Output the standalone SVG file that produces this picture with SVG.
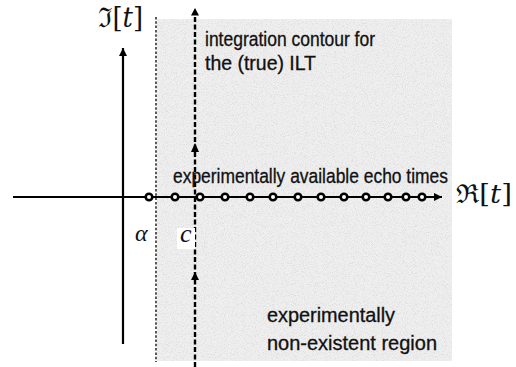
<svg xmlns="http://www.w3.org/2000/svg" width="516" height="367" viewBox="0 0 516 367">
<style>
.lbl{font-family:"Liberation Sans Narrow","Liberation Sans",Arial,sans-serif;font-size:19.5px;fill:#111;stroke:#111;stroke-width:0.3}
.math{font-family:"DejaVu Serif","Liberation Serif",serif;fill:#111}
.it{font-family:"Liberation Serif","DejaVu Serif",serif;font-style:italic;fill:#111}
.axis{stroke:#000;stroke-width:2.2;fill:none}
.dot{fill:#fff;stroke:#000;stroke-width:2.6}
</style>
<defs>
<marker id="ah" viewBox="0 0 8 8" refX="8" refY="4" markerWidth="8" markerHeight="8" markerUnits="userSpaceOnUse" orient="auto">
<path d="M0,0 L8,4 L0,8 z" fill="#000"/>
</marker>
<filter id="noise" x="0" y="0" width="100%" height="100%">
<feTurbulence type="fractalNoise" baseFrequency="1.1" numOctaves="2" seed="3" result="t"/>
<feColorMatrix in="t" type="matrix" values="0 0 0 0 0.6  0 0 0 0 0.6  0 0 0 0 0.6  0 0 0 -3 1.6" result="n"/>
<feComposite in="n" in2="SourceGraphic" operator="in"/>
</filter>
</defs>
<g id="region">
<rect x="157" y="19" width="295" height="342" fill="#efefef"/>
<rect x="157" y="19" width="295" height="342" fill="#fff" filter="url(#noise)" opacity="0.5"/>
</g>
<g id="connectors">
<line class="axis" x1="123" y1="344" x2="123" y2="48" marker-end="url(#ah)"/>
<line class="axis" x1="13" y1="197" x2="442" y2="197" marker-end="url(#ah)"/>
<line x1="156" y1="17" x2="156" y2="362" stroke="#000" stroke-width="1.3" stroke-dasharray="2.5,1.8"/>
<line x1="195" y1="367" x2="195" y2="14" stroke="#000" stroke-width="2.4" stroke-dasharray="5,2.5"/>
<path d="M195,8 L199,15.5 L191,15.5 z" fill="#000"/>
<path d="M195,143 L199,152 L191,152 z" fill="#000"/>
<path d="M195,272 L199,280 L191,280 z" fill="#000"/>
</g>
<g id="echo-times">
<circle class="dot" cx="149" cy="197" r="3.3"/>
<circle class="dot" cx="175" cy="197" r="3.3"/>
<circle class="dot" cx="200" cy="197" r="3.3"/>
<circle class="dot" cx="225" cy="197" r="3.3"/>
<circle class="dot" cx="250" cy="197" r="3.3"/>
<circle class="dot" cx="273" cy="197" r="3.3"/>
<circle class="dot" cx="298" cy="197" r="3.3"/>
<circle class="dot" cx="321" cy="197" r="3.3"/>
<circle class="dot" cx="344" cy="197" r="3.3"/>
<circle class="dot" cx="366" cy="197" r="3.3"/>
<circle class="dot" cx="388" cy="197" r="3.3"/>
<circle class="dot" cx="406" cy="197" r="3.3"/>
<circle class="dot" cx="422" cy="197" r="3.3"/>
</g>
<g id="label-im">
<text class="math" x="98" y="27" font-size="27" textLength="45" lengthAdjust="spacingAndGlyphs">ℑ[<tspan font-style="italic">t</tspan>]</text>
</g>
<g id="label-re">
<text class="math" x="456" y="203" font-size="26" textLength="56" lengthAdjust="spacingAndGlyphs">ℜ[<tspan font-style="italic">t</tspan>]</text>
</g>
<g id="label-alpha">
<text class="it" x="135" y="241" font-size="24">α</text>
</g>
<g id="label-c">
<rect x="177" y="228" width="18" height="21" fill="#fff"/>
<text class="it" x="180" y="242" font-size="26">c</text>
</g>
<g id="label-contour">
<text class="lbl" transform="translate(205,46) scale(0.85,1)" x="0" y="0" textLength="200" lengthAdjust="spacingAndGlyphs">integration contour for</text>
<text class="lbl" transform="translate(205,70) scale(0.85,1)" x="0" y="0" textLength="130.6" lengthAdjust="spacingAndGlyphs">the (true) ILT</text>
</g>
<g id="label-echo">
<text class="lbl" transform="translate(173,183) scale(0.85,1)" x="0" y="0" textLength="323.5" lengthAdjust="spacingAndGlyphs">experimentally available echo times</text>
</g>
<g id="label-region">
<text class="lbl" transform="translate(267,322) scale(0.85,1)" x="0" y="0" textLength="150.6" lengthAdjust="spacingAndGlyphs">experimentally</text>
<text class="lbl" transform="translate(267,350) scale(0.85,1)" x="0" y="0" textLength="200" lengthAdjust="spacingAndGlyphs">non-existent region</text>
</g>
</svg>
